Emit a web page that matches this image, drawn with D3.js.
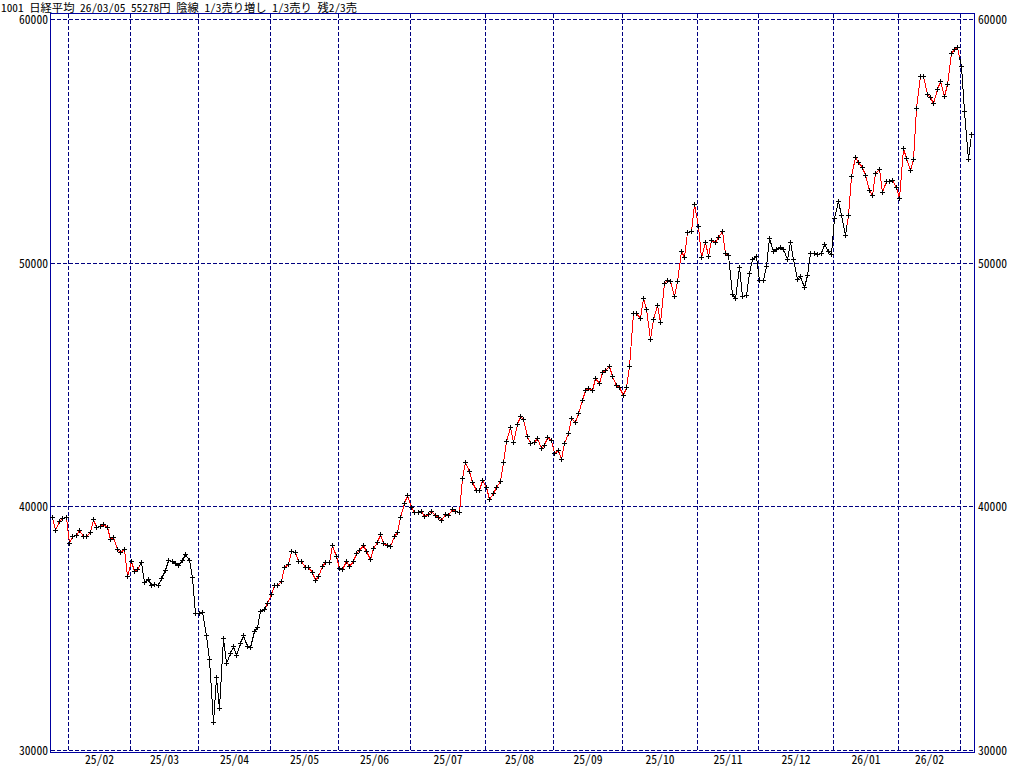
<!DOCTYPE html>
<html><head><meta charset="utf-8">
<script src="https://cdn.jsdelivr.net/npm/d3@7"></script>
<style>
html,body{margin:0;padding:0;background:#fff;}
svg{display:block;}
text{font-family:"Noto Sans Mono CJK JP","Noto Sans CJK JP","DejaVu Sans Mono",monospace;font-size:12px;fill:#000;}
</style></head>
<body>
<svg id="c" width="1024" height="767"></svg>
<script>
// ---- data ----
const title = "1001 日経平均 26/03/05 55278円 陰線 1/3売り増し 1/3売り 残2/3売";
const tradingDays = [
  ["25/01",[27,28,29,30,31]],
  ["25/02",[3,4,5,6,7,10,12,13,14,17,18,19,20,21,25,26,27,28]],
  ["25/03",[3,4,5,6,7,10,11,12,13,14,17,18,19,21,24,25,26,27,28,31]],
  ["25/04",[1,2,3,4,7,8,9,10,11,14,15,16,17,18,21,22,23,24,25,28,30]],
  ["25/05",[1,2,7,8,9,12,13,14,15,16,19,20,21,22,23,26,27,28,29,30]],
  ["25/06",[2,3,4,5,6,9,10,11,12,13,16,17,18,19,20,23,24,25,26,27,30]],
  ["25/07",[1,2,3,4,7,8,9,10,11,14,15,16,17,18,22,23,24,25,28,29,30,31]],
  ["25/08",[1,4,5,6,7,8,12,13,14,15,18,19,20,21,22,25,26,27,28,29]],
  ["25/09",[1,2,3,4,5,8,9,10,11,12,16,17,18,19,22,24,25,26,29,30]],
  ["25/10",[1,2,3,6,7,8,9,10,14,15,16,17,20,21,22,23,24,27,28,29,30,31]],
  ["25/11",[4,5,6,7,10,11,12,13,14,17,18,19,20,21,25,26,27,28]],
  ["25/12",[1,2,3,4,5,8,9,10,11,12,15,16,17,18,19,22,23,24,25,26,29,30]],
  ["26/01",[5,6,7,8,9,13,14,15,16,19,20,21,22,23,26,27,28,29,30]],
  ["26/02",[2,3,4,5,6,9,10,12,13,16,17,18,19,20,24,25,26,27]],
  ["26/03",[2,3,4,5]]
];
const closeValues = [
  39550,39029,39386,39509,39550,
  38508,38783,38811,39041,38770,38770,38934,39468,39164,39193,39263,39164,38647,38754,38237,38126,38237,37129,
  37769,37346,37428,37703,36895,37006,36759,36800,36759,37047,37375,37810,37744,37662,37580,37785,38044,37785,37088,35610,
  35610,35676,34707,33747,31149,32984,31711,34596,33558,33969,34268,33887,34379,34707,34268,34215,34871,35036,35692,35799,36021,
  36415,36772,36759,36936,37498,37633,38155,38114,37744,37753,37498,37529,37299,36985,37160,37531,37724,37722,38401,37949,
  37470,37446,37747,37554,37741,38073,38196,38401,38155,37839,38278,38524,38852,38483,38401,38360,38770,38934,39550,40124,40478,
  39973,39755,39755,39796,39591,39673,39796,39632,39562,39427,39673,39644,39878,39809,39755,41151,41807,41438,40986,40658,40658,41068,
  40781,40289,40535,40781,41027,41807,42694,43244,42628,43367,43695,43572,42874,42587,42628,42792,42382,42505,42833,42710,
  42177,42300,41930,42587,43018,43643,43459,43837,44352,44762,44869,44762,45279,45049,45501,45608,45747,45337,45000,44910,
  44569,44910,45759,47922,47922,47717,48563,48086,46855,47688,48250,47553,49153,49301,49260,48620,49260,50491,50233,51271,51312,52395,
  51505,50233,50861,50274,50918,50836,51054,51287,50385,50302,48702,48538,49810,48620,48661,49564,50138,50261,
  49276,49276,49851,51000,50467,50549,50631,50561,50138,50836,50138,49342,49441,48989,49482,50385,50385,50356,50385,50754,50491,50356,
  51821,52519,51944,51123,51944,53545,54324,54119,53914,53586,52970,52765,53668,53832,52888,53340,53340,53380,53100,
  52642,54694,54283,53791,54242,56335,57649,57649,56910,56787,56541,57115,57444,56828,57320,58593,58757,58839,
  58059,56237,54242,55278
];
// periods drawn in red (buy side); other days black
const redPeriods = [["25/01/27","25/03/05"],["25/04/30","25/11/14"],["26/01/09","26/02/27"]];
const yTicks = [30000,40000,50000,60000];
const monthLabels = ["25/02","25/03","25/04","25/05","25/06","25/07","25/08","25/09","25/10","25/11","25/12","26/01","26/02"];

// ---- build ----
const dates = [];
tradingDays.forEach(([m,ds])=>ds.forEach(d=>dates.push(m+"/"+String(d).padStart(2,"0"))));
const data = dates.map((d,i)=>({date:d, v:closeValues[i],
  red: redPeriods.some(([a,b])=>d>=a && d<=b)}));

const svg = d3.select("#c");
const L=50.5, R=974.5, T=13.5, B=752.5;
const x = d3.scalePoint().domain(dates).range([52,971]);
const y = d3.scaleLinear().domain([30000,60000]).range([750,19]);
const px = d => Math.round(x(d))+0.5;
const py = v => Math.round(y(v))+0.5;
const grid = "#000080", frame = "#0000a0";

// title
svg.append("text").attr("x",1).attr("y",11.5).style("font-size","11px")
  .attr("textLength",356).attr("lengthAdjust","spacingAndGlyphs").text(title);

// horizontal grid
svg.append("g").selectAll("line").data(yTicks).join("line")
  .attr("x1",L).attr("x2",R).attr("y1",d=>py(d)).attr("y2",d=>py(d))
  .attr("stroke",grid).attr("stroke-dasharray","4,2").attr("shape-rendering","crispEdges");

// month boundaries
const monthStarts = tradingDays.slice(1).map(([m,ds])=>m+"/"+String(ds[0]).padStart(2,"0"));
const gx = d => Math.round(x(d)-1)+0.5;
svg.append("g").selectAll("line").data(monthStarts).join("line")
  .attr("x1",gx).attr("x2",gx).attr("y1",T).attr("y2",B)
  .attr("stroke",grid).attr("stroke-dasharray","4,2").attr("shape-rendering","crispEdges");

// frame
svg.append("rect").attr("x",L).attr("y",T).attr("width",R-L).attr("height",B-T)
  .attr("fill","none").attr("stroke",frame).attr("shape-rendering","crispEdges");

// y labels
const yl = svg.append("g");
yTicks.forEach(t=>{
  yl.append("text").attr("x",48).attr("y",py(t)+4.5).attr("text-anchor","end").attr("textLength",29).attr("lengthAdjust","spacingAndGlyphs").text(t);
  yl.append("text").attr("x",978).attr("y",py(t)+4.5).attr("textLength",29).attr("lengthAdjust","spacingAndGlyphs").text(t);
});

// month labels centered in month span
const bounds = monthStarts.map(gx);
monthLabels.forEach((m,i)=>{
  const cx=(bounds[i]+bounds[i+1])/2;
  svg.append("text").attr("x",cx).attr("y",764).attr("text-anchor","middle").attr("textLength",29).attr("lengthAdjust","spacingAndGlyphs").text(m);
});

// line segments split at midpoint, colored by each day's state
const seg = svg.append("g").attr("shape-rendering","crispEdges");
for(let i=1;i<data.length;i++){
  const a=data[i-1], b=data[i];
  const x0=px(a.date), y0=py(a.v), x1=px(b.date), y1=py(b.v);
  const mx=(x0+x1)/2, my=(y0+y1)/2;
  seg.append("line").attr("x1",x0).attr("y1",y0).attr("x2",mx).attr("y2",my).attr("stroke",a.red?"#ff0000":"#000");
  seg.append("line").attr("x1",mx).attr("y1",my).attr("x2",x1).attr("y2",y1).attr("stroke",b.red?"#ff0000":"#000");
}
// plus markers
svg.append("g").selectAll("path").data(data).join("path")
  .attr("d",d=>{const cx=px(d.date), cy=py(d.v); return `M${cx-2.5},${cy}H${cx+2.5}M${cx},${cy-2.5}V${cy+2.5}`;})
  .attr("stroke","#000").attr("fill","none").attr("shape-rendering","crispEdges");
</script>
</body></html>
